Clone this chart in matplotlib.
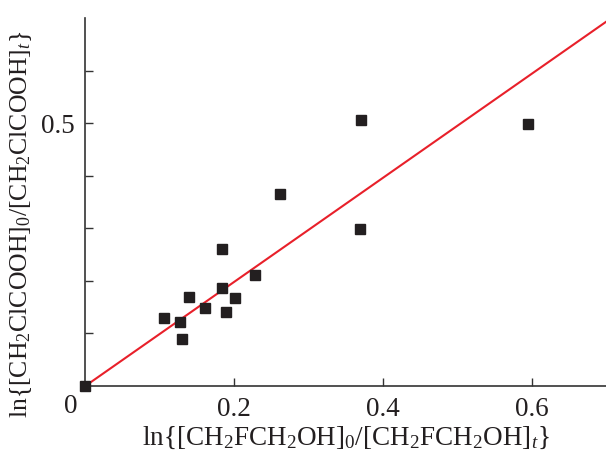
import matplotlib
matplotlib.use("Agg")
import numpy as np
import matplotlib.pyplot as plt

plt.rcParams["font.family"] = ["Liberation Serif", "DejaVu Serif"]
plt.rcParams["mathtext.fontset"] = "custom"
plt.rcParams["mathtext.rm"] = "Liberation Serif"
plt.rcParams["mathtext.it"] = "Liberation Serif:italic"

# data
x_vals = [0.0, 0.105, 0.127, 0.130, 0.139, 0.161, 0.184, 0.189, 0.201,
          0.183, 0.228, 0.261, 0.369, 0.371, 0.595]
y_vals = [0.0, 0.129, 0.121, 0.089, 0.170, 0.148, 0.186, 0.140, 0.167,
          0.260, 0.212, 0.365, 0.298, 0.506, 0.499]
fit_slope = 0.99
fit_x = [0.0, 0.7]

x_ticks = [0.2, 0.4, 0.6]
x_ticklabels = ["0.2", "0.4", "0.6"]
y_ticks = [0.1, 0.2, 0.3, 0.4, 0.5, 0.6]
y_ticklabels = ["", "", "", "", "0.5", ""]

fig = plt.figure(figsize=(6.06, 4.54), dpi=100)
ax = fig.add_axes([0.141, 0.150, 0.859, 0.810])

ax.plot(fit_x, [fit_slope * v for v in fit_x], color="#e8202a", lw=1.5, zorder=2)
ax.plot(x_vals, y_vals, "s", color="#231f20", ms=7.5, zorder=3, clip_on=False)

ax.set_xlim(0, 0.7)
ax.set_ylim(0, 0.7)
ax.set_xticks(x_ticks)
ax.set_xticklabels(x_ticklabels)
ax.set_yticks(y_ticks)
ax.set_yticklabels(y_ticklabels)
ax.tick_params(direction="in", length=6, width=1, color="#333333",
               labelsize=19.5, pad=8, labelcolor="#231f20")

for side in ["top", "right"]:
    ax.spines[side].set_visible(False)
for side in ["left", "bottom"]:
    ax.spines[side].set_color("#333333")
    ax.spines[side].set_linewidth(1.2)

ax.text(-0.02, -0.04, "0", fontsize=19.5, color="#231f20",
        ha="center", va="center", transform=ax.transData, clip_on=False)

ax.set_xlabel(r"ln{[CH$_2$FCH$_2$OH]$_0$/[CH$_2$FCH$_2$OH]$_t$}",
              fontsize=19.5, color="#231f20", labelpad=2)
ax.set_ylabel(r"ln{[CH$_2$ClCOOH]$_0$/[CH$_2$ClCOOH]$_t$}",
              fontsize=18.5, color="#231f20")
ax.yaxis.set_label_coords(-0.098, 0.44)

fig.savefig("out.png", dpi=100)
